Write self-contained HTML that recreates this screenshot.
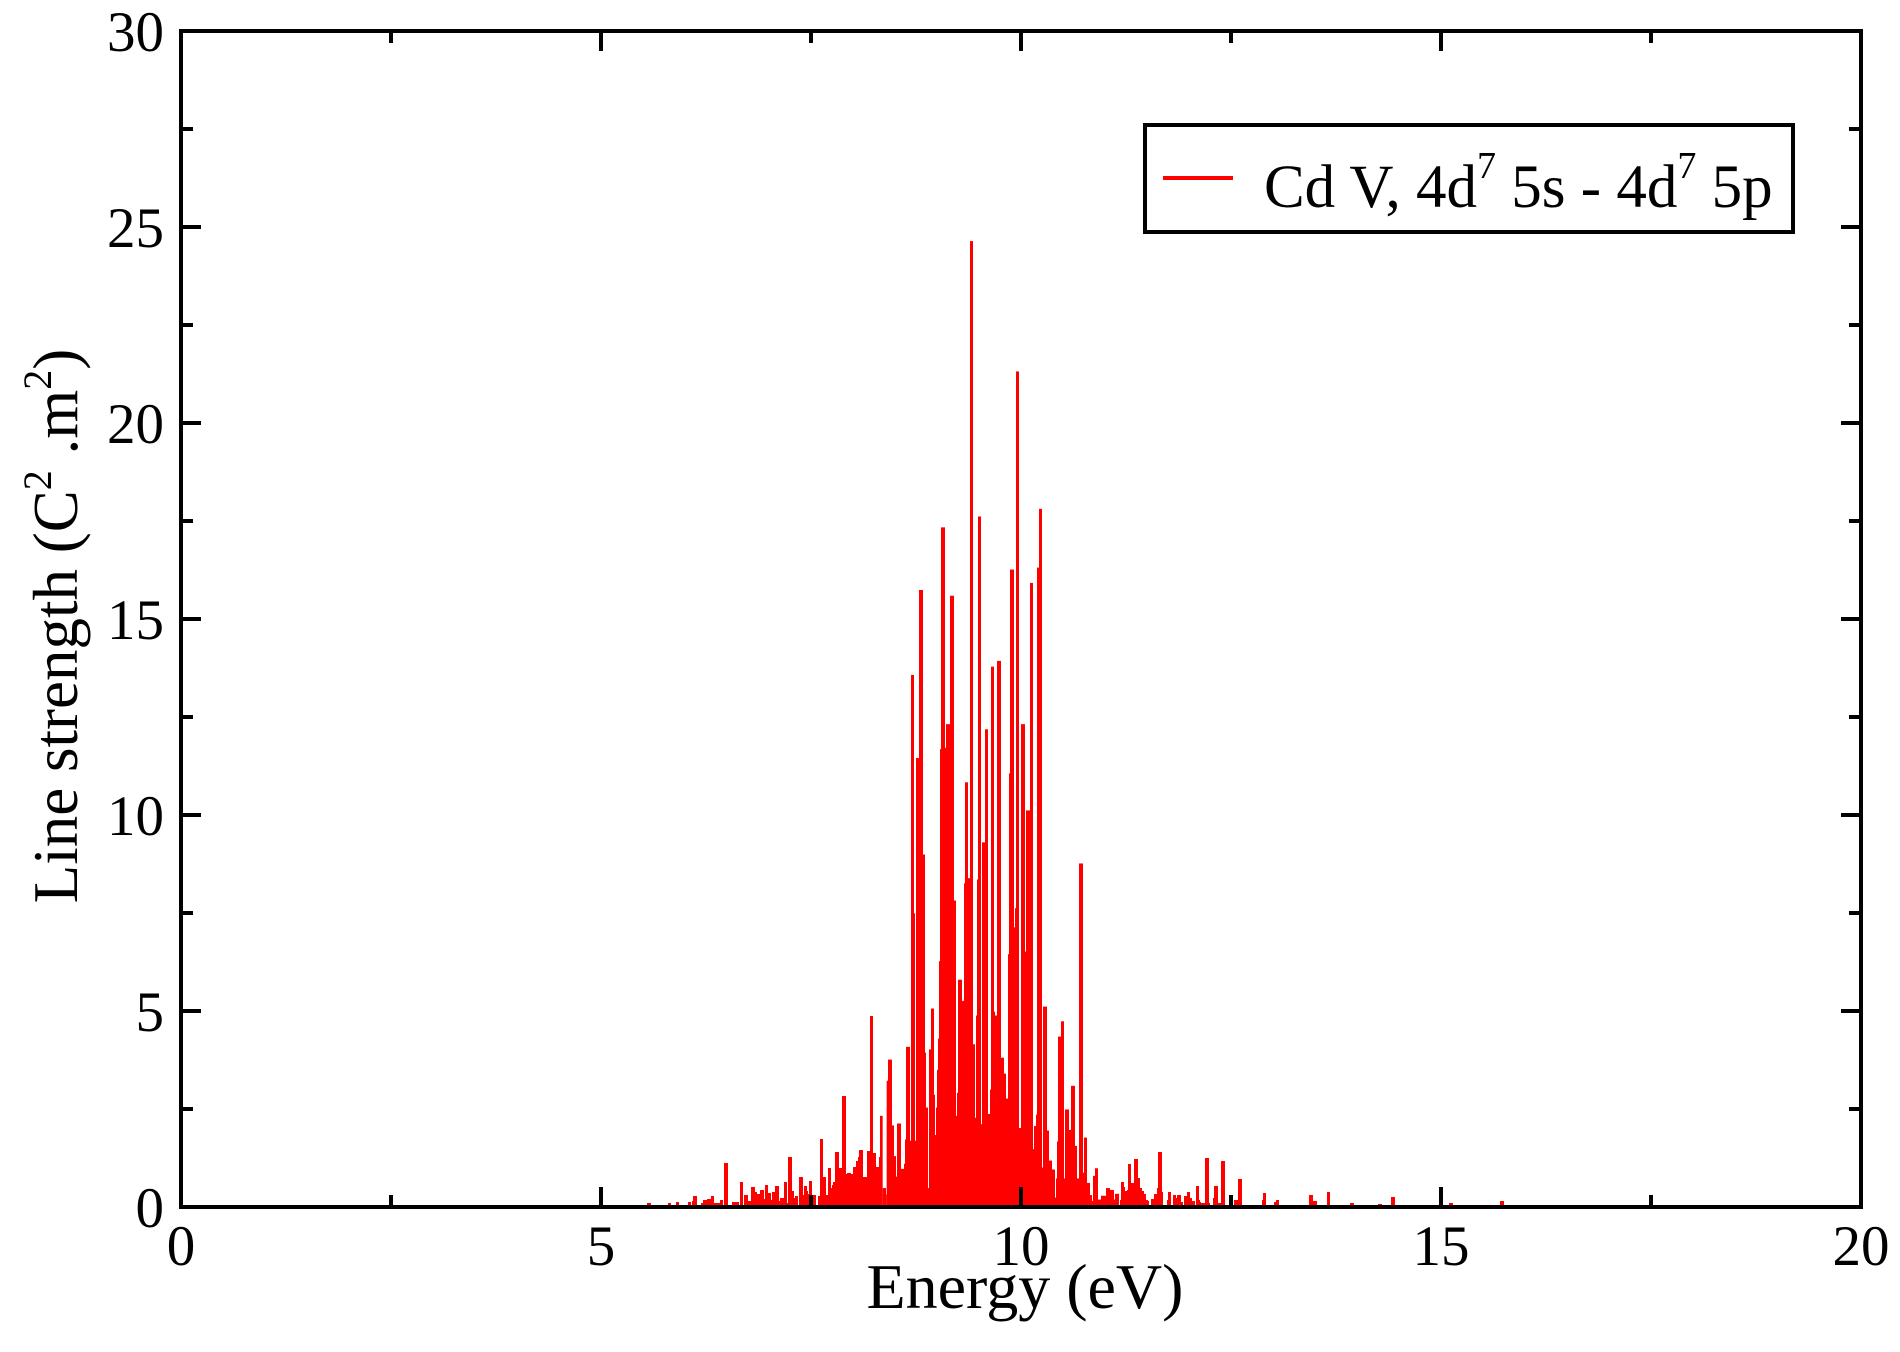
<!DOCTYPE html>
<html><head><meta charset="utf-8"><style>
html,body{margin:0;padding:0;background:#fff;}
svg{display:block;}
text{font-family:"Liberation Serif",serif;fill:#000;}
</style></head><body>
<svg id="s" width="1900" height="1352" viewBox="0 0 1900 1352" xmlns="http://www.w3.org/2000/svg">
<g id="bars" fill="#ff0000"></g>
<g id="ax" stroke="#000" stroke-width="4" fill="none">
<rect x="181" y="31" width="1680" height="1176"/>
</g>
<g id="lbl" font-size="57"></g>
<text x="1025" y="1308" font-size="64" text-anchor="middle">Energy (eV)</text>
<text transform="translate(77,626) rotate(-90)" font-size="63" text-anchor="middle">Line strength (C<tspan font-size="40" dy="-26">2</tspan><tspan dy="26"> .m</tspan><tspan font-size="40" dy="-26">2</tspan><tspan dy="26">)</tspan></text>
<rect x="1145" y="125" width="648" height="107" fill="#fff" stroke="#000" stroke-width="4"/>
<line x1="1163" y1="178" x2="1233" y2="178" stroke="#ff0000" stroke-width="4"/>
<text x="1264" y="207" font-size="61">Cd V, 4d<tspan font-size="38" dy="-29">7</tspan><tspan dy="29"> 5s - 4d</tspan><tspan font-size="38" dy="-29">7</tspan><tspan dy="29"> 5p</tspan></text>
</svg>
<script>
var NS="http://www.w3.org/2000/svg";
var bars=document.getElementById("bars");
function R(x,y,w,h){if(h<=0||w<=0)return;var r=document.createElementNS(NS,"rect");r.setAttribute("x",x);r.setAttribute("y",y);r.setAttribute("width",w);r.setAttribute("height",h);bars.appendChild(r);}
var B=1207;
function add(list,ox,oy,sx,sy){for(var i=0;i<list.length;i++){var a=list[i];var x0=ox+a[0]/sx,x1=ox+a[1]/sx,t=oy+a[2]/sy;R(x0,t,x1-x0,B-t);}}
var C=[[0,8,1402],[8,18,1515],[18,20,1525],[20,24,1347],[24,36,1314],[36,42,1417],[42,48,1465],[48,51,1497],[51,63,1414],[63,72,1485],[72,75,1477],[75,78,1439],[78,90,1294],[90,93,1441],[93,102,712],[100,105,1085],[105,108,1441],[108,117,842],[117,129,579],[129,135,993],[135,138,1303],[138,144,1389],[144,147,1515],[147,153,1298],[153,162,1234],[162,165,1369],[165,168,1432],[168,171,1389],[171,174,1330],[174,177,1281],[177,180,1160],[180,183,828],[183,195,481],[195,198,826],[198,210,789],[210,222,588],[222,228,1065],[228,231,1402],[231,234,1366],[234,246,1189],[246,252,1222],[252,255,1038],[255,264,880],[264,270,1030],[270,279,33],[279,285,1290],[285,288,1405],[288,291,1245],[291,294,1032],[294,303,464],[303,306,1415],[306,315,974],[315,324,797],[324,330,1399],[330,333,1361],[333,342,699],[342,345,1239],[345,351,1245],[351,363,690],[363,372,1311],[372,378,1336],[378,384,1375],[384,387,1149],[387,390,866],[390,402,547],[402,405,1107],[405,408,1077],[408,417,237],[417,423,1421],[423,435,789],[435,438,1145],[438,450,924],[450,459,568],[459,462,1454],[462,468,1418],[468,471,1400],[471,477,544],[477,486,452],[486,489,1483],[489,501,1231],[501,507,1425],[507,516,1472],[516,525,1486],[525,528,1530],[528,531,1500],[531,534,1442],[534,543,1278],[543,552,1254],[552,555,1500],[555,567,1392],[567,573,1424],[573,585,1355],[585,591,1449],[591,597,1500],[597,609,1007],[609,612,1491],[612,621,1436],[621,630,1507],[630,636,1526],[636,639,1535],[639,645,1496],[645,654,1484],[654,663,1533],[663,678,1527],[678,690,1515],[690,702,1518],[702,705,1533],[705,717,1524]];
add(C,880,220,3,1.565);
var L=[[21,33,609],[84,93,609],[108,117,606],[144,153,606],[156,159,603],[159,171,588],[183,189,609],[189,201,600],[201,213,597],[213,222,588],[222,240,609],[240,249,600],[252,264,489],[276,297,606],[300,309,546],[312,324,585],[324,333,603],[333,345,561],[345,351,576],[351,360,582],[360,372,570],[372,375,597],[375,384,555],[384,393,579],[393,396,600],[396,405,576],[405,417,558],[417,420,603],[420,432,594],[432,441,546],[441,444,609],[444,456,471],[456,462,573],[462,465,594],[465,474,588],[477,489,531],[489,492,585],[492,501,558],[501,504,573],[504,507,582],[507,516,543],[516,528,585],[534,540,588],[540,549,417],[549,558,531],[558,564,585],[564,573,504],[573,576,564],[576,579,555],[579,585,546],[585,597,456],[597,606,504],[606,618,288],[618,621,522],[621,633,519],[633,639,522],[639,648,501],[648,654,483],[654,657,471],[657,669,450],[669,681,531],[681,690,453],[690,699,48],[699,708,459],[708,717,501],[717,720,471]];
add(L,640,1000,3,3);
var Rr=[[0,3,300],[3,12,246],[12,15,261],[15,21,273],[21,24,270],[24,33,192],[33,42,249],[42,54,177],[54,60,234],[60,66,264],[66,72,273],[72,78,282],[78,84,300],[84,87,303],[93,102,297],[102,111,282],[111,114,264],[114,126,156],[126,129,276],[141,144,300],[144,153,276],[159,168,285],[168,171,294],[171,183,285],[183,189,306],[192,201,288],[201,210,276],[210,216,294],[216,225,303],[228,237,258],[237,240,300],[240,243,306],[243,255,309],[255,267,174],[267,270,309],[279,282,294],[282,294,258],[294,303,309],[303,315,183],[342,354,300],[354,366,237],[426,429,300],[429,438,279],[462,468,306],[468,477,300],[567,579,285],[579,591,303],[621,630,276],[690,702,309]];
add(Rr,1120,1100,3,3);
[[560,2],[576,2],[630,2],[1391,10],[1449,4],[1500,6],[1378,3]].forEach(function(p){R(p[0],B-p[1],4,p[1]);});
var ax=document.getElementById("ax"),lbl=document.getElementById("lbl");
function ln(x1,y1,x2,y2){var l=document.createElementNS(NS,"line");l.setAttribute("x1",x1);l.setAttribute("y1",y1);l.setAttribute("x2",x2);l.setAttribute("y2",y2);ax.appendChild(l);}
function tx(x,y,s,anc){var t=document.createElementNS(NS,"text");t.setAttribute("x",x);t.setAttribute("y",y);t.setAttribute("text-anchor",anc);t.textContent=s;lbl.appendChild(t);}
for(var i=0;i<=8;i++){var v=i*2.5,x=181+v*84,L2=(i%2==0)?20:12;
 if(i>0&&i<8){ln(x,1207,x,1207-L2);ln(x,31,x,31+L2);}
 if(i%2==0)tx(x,1265,String(v),"middle");}
for(var j=0;j<=12;j++){var v=j*2.5,y=1207-v*39.2,L3=(j%2==0)?20:12;
 if(j>0&&j<12){ln(181,y,181+L3,y);ln(1861,y,1861-L3,y);}
 if(j%2==0)tx(164,y+20,String(v),"end");}
</script>
</body></html>
